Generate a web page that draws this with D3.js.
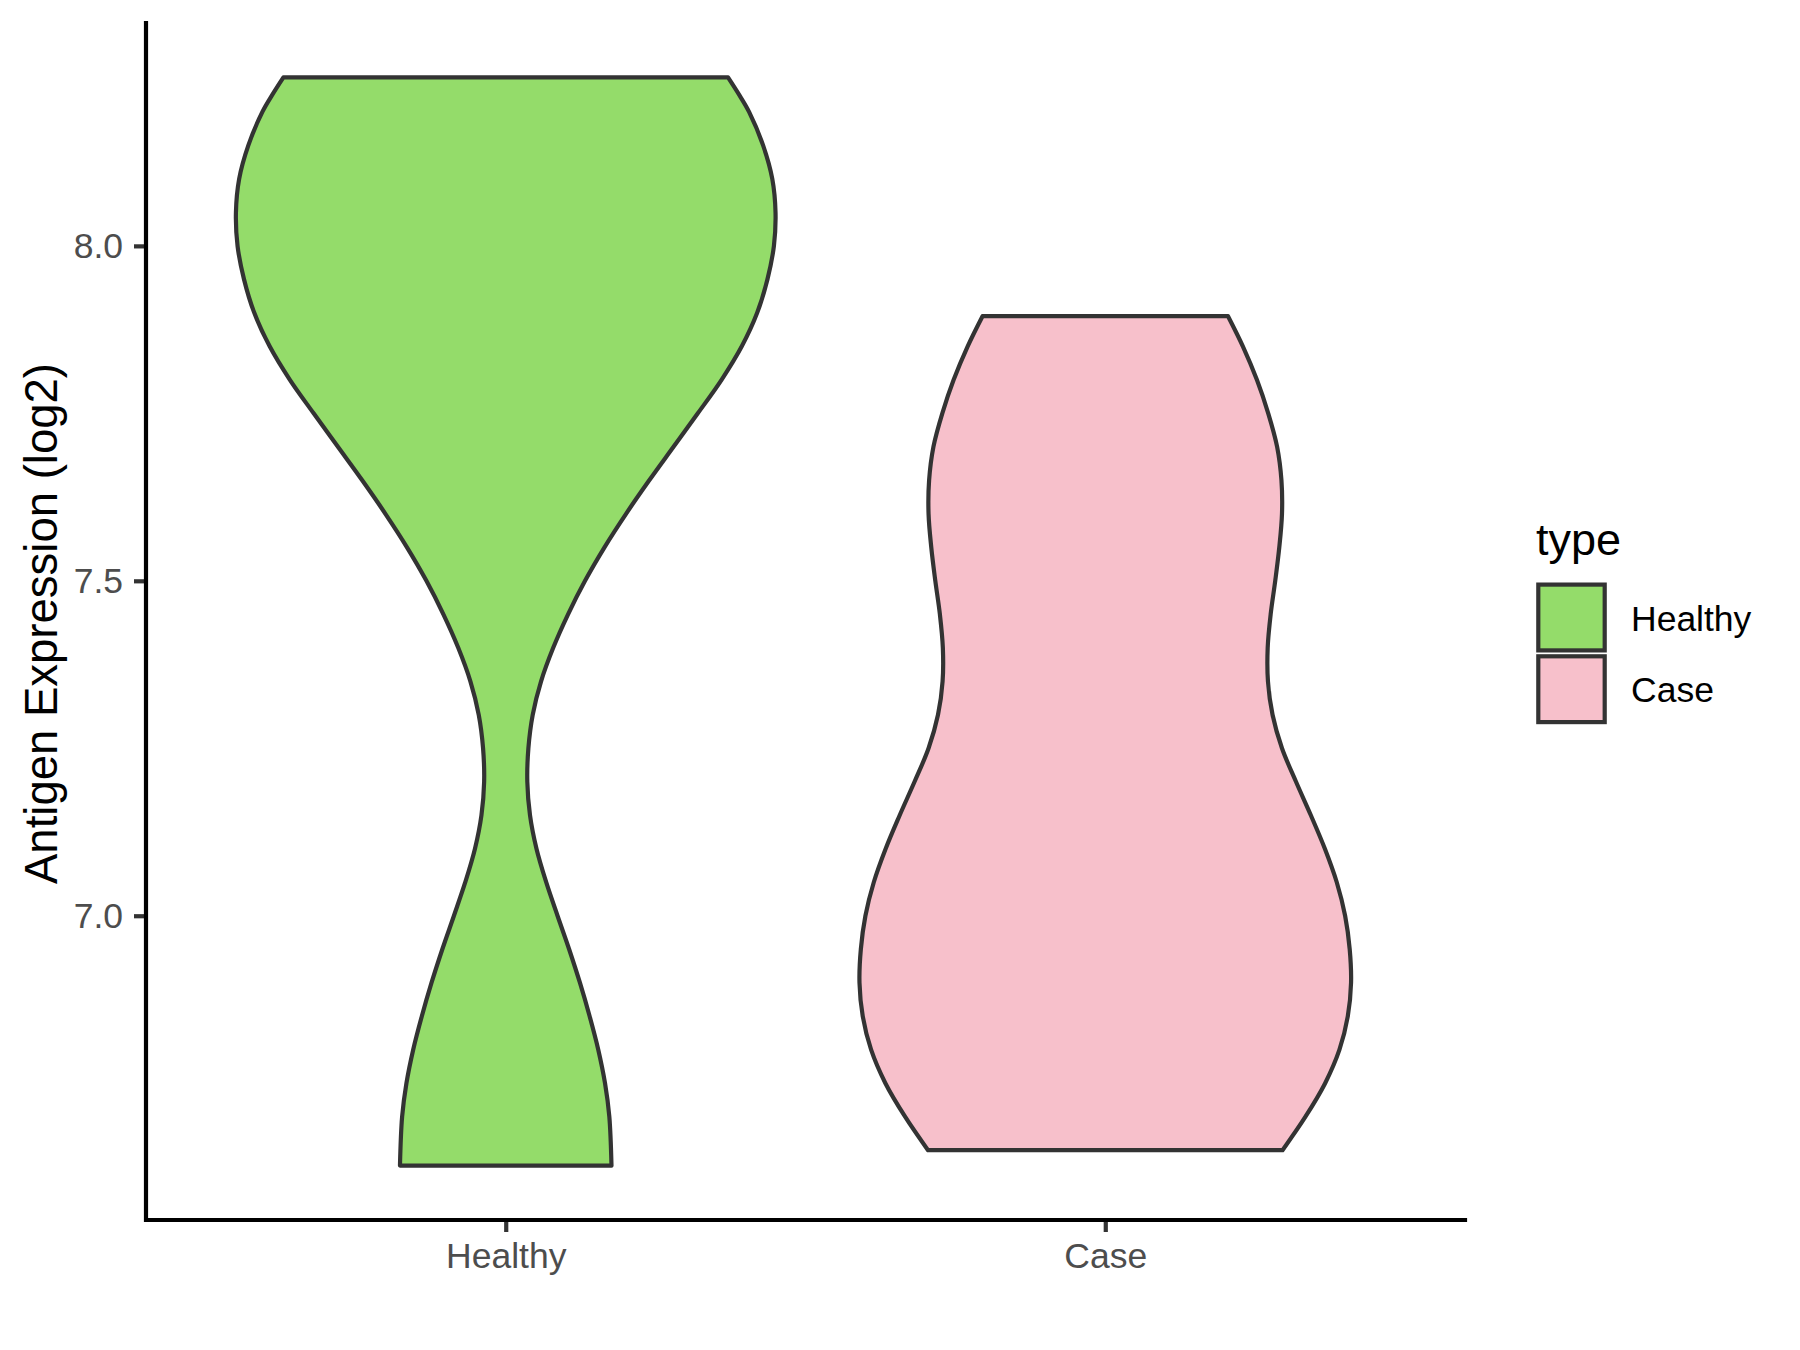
<!DOCTYPE html>
<html>
<head>
<meta charset="utf-8">
<script src="https://cdn.jsdelivr.net/npm/d3@7"></script>
<style>
  html, body { margin: 0; padding: 0; background: #ffffff; }
  svg { display: block; font-family: "Liberation Sans", Arial, sans-serif; }
</style>
</head>
<body>
<svg id="chart" width="1800" height="1350"></svg>
<script>
// ---- data ----
const categories = ["Healthy", "Case"];
const fillColors = ["#94DC6A", "#F7C0CB"];
const yTicks = [7.0, 7.5, 8.0];
const yTickLabels = ["7.0", "7.5", "8.0"];

// violin outlines: expression value and relative half-width (1 = widest violin)
const healthyValues = [8.2515, 8.225, 8.20, 8.15, 8.10, 8.05, 8.00, 7.95, 7.90, 7.85, 7.80, 7.75, 7.70, 7.65, 7.60, 7.55, 7.50, 7.45, 7.40, 7.35, 7.30, 7.25, 7.20, 7.15, 7.10, 7.05, 7.00, 6.95, 6.90, 6.85, 6.80, 6.75, 6.70, 6.627];
const healthyWidths = [0.824, 0.866, 0.902, 0.954, 0.988, 1.000, 0.994, 0.970, 0.932, 0.875, 0.800, 0.712, 0.622, 0.532, 0.446, 0.366, 0.294, 0.231, 0.176, 0.131, 0.100, 0.084, 0.080, 0.090, 0.114, 0.150, 0.192, 0.235, 0.275, 0.311, 0.343, 0.368, 0.384, 0.392];
const caseValues = [7.895, 7.85, 7.80, 7.75, 7.70, 7.65, 7.60, 7.55, 7.50, 7.45, 7.40, 7.35, 7.30, 7.25, 7.20, 7.15, 7.10, 7.05, 7.00, 6.95, 6.90, 6.85, 6.80, 6.75, 6.70, 6.65];
const caseWidths = [0.455, 0.510, 0.562, 0.604, 0.637, 0.653, 0.655, 0.645, 0.630, 0.613, 0.602, 0.603, 0.620, 0.655, 0.707, 0.762, 0.814, 0.858, 0.889, 0.906, 0.911, 0.899, 0.868, 0.815, 0.742, 0.657];

const violins = [
  { type: "Healthy", values: healthyValues, widths: healthyWidths },
  { type: "Case", values: caseValues, widths: caseWidths }
];

// ---- layout ----
const svg = d3.select("#chart");
const plot = { left: 146, right: 1465, top: 23, bottom: 1220 };

const allVals = healthyValues.concat(caseValues);
const yMin = d3.min(allVals), yMax = d3.max(allVals);
const pad = (yMax - yMin) * 0.05;
const y = d3.scaleLinear().domain([yMin - pad, yMax + pad]).range([plot.bottom, plot.top]);
const x = d3.scalePoint().domain(categories).range([plot.left, plot.right]).padding(0.6);
const color = d3.scaleOrdinal().domain(categories).range(fillColors);
const halfMax = x.step() * 0.45;

// ---- violins ----
violins.forEach(v => {
  const cx = x(v.type);
  const pts = v.values.map((val, i) => ({ val, w: v.widths[i] }));
  const area = d3.area()
    .y(d => y(d.val))
    .x0(d => cx - d.w * halfMax)
    .x1(d => cx + d.w * halfMax)
    .curve(d3.curveCatmullRom.alpha(0.5));
  svg.append("path")
    .datum(pts)
    .attr("d", area)
    .attr("fill", color(v.type))
    .attr("stroke", "#333333")
    .attr("stroke-width", 4.2)
    .attr("stroke-linejoin", "round");
});

// ---- axes ----
const yAxis = d3.axisLeft(y).tickValues(yTicks).tickFormat((d, i) => yTickLabels[i]).tickSize(12).tickPadding(11);
const gy = svg.append("g").attr("transform", `translate(${plot.left},0)`).call(yAxis);
gy.select(".domain").remove();
gy.selectAll(".tick line").attr("stroke", "#333333").attr("stroke-width", 4.2);
gy.selectAll(".tick text").attr("fill", "#4D4D4D").attr("font-size", 35.5)
  .attr("font-family", "'Liberation Sans', Arial, sans-serif");

const xAxis = d3.axisBottom(x).tickSize(12).tickPadding(8);
const gx = svg.append("g").attr("transform", `translate(0,${plot.bottom})`).call(xAxis);
gx.select(".domain").remove();
gx.selectAll(".tick line").attr("stroke", "#333333").attr("stroke-width", 4.2);
gx.selectAll(".tick text").attr("fill", "#4D4D4D").attr("font-size", 35.5)
  .attr("font-family", "'Liberation Sans', Arial, sans-serif")
  .attr("dy", null).attr("y", 47.5);

// axis lines
svg.append("path")
  .attr("d", `M${plot.left},${plot.top}V${plot.bottom}H${plot.right}`)
  .attr("fill", "none").attr("stroke", "#000000").attr("stroke-width", 4.2)
  .attr("stroke-linecap", "square");

// y-axis title
svg.append("text")
  .attr("transform", `translate(57,${(plot.top + plot.bottom) / 2 + 2}) rotate(-90)`)
  .attr("text-anchor", "middle")
  .attr("font-size", 45.5)
  .attr("fill", "#000000")
  .text("Antigen Expression (log2)");

// ---- legend ----
const lg = svg.append("g");
lg.append("text").attr("x", 1536).attr("y", 555).attr("font-size", 45).attr("fill", "#000").text("type");
categories.forEach((c, i) => {
  const top = 584.6 + i * 71.7;
  lg.append("rect").attr("x", 1538.3).attr("y", top).attr("width", 66.4).attr("height", 65.8)
    .attr("fill", color(c)).attr("stroke", "#333333").attr("stroke-width", 4.2);
  lg.append("text").attr("x", 1631).attr("y", top + 46).attr("font-size", 35.5).attr("fill", "#000").text(c);
});
</script>
</body>
</html>
